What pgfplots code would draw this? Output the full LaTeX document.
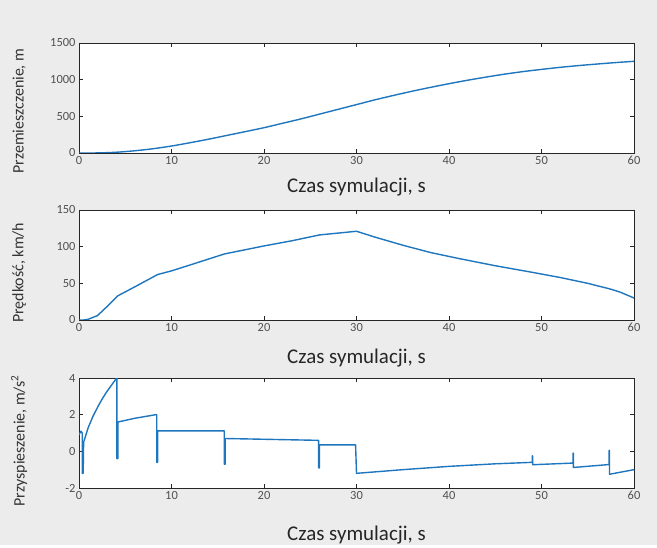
\documentclass[border=0pt]{standalone}
\usepackage{pgfplots}
\pgfplotsset{compat=1.18}
\usepackage{fontspec}
\setmainfont{Carlito}
\definecolor{mblue}{RGB}{30,118,190}
\definecolor{bg}{RGB}{236,236,236}
\definecolor{tickgray}{RGB}{80,80,80}
\pgfplotsset{
  myax/.style={
    width=555bp, height=110bp, scale only axis,
    xmin=0, xmax=60, xtick={0,10,...,60},
    axis background/.style={fill=white},
    axis line style={draw=black!85, line width=0.8pt},
    tick style={draw=black!85, line width=0.6pt},
    major tick length=4bp,
    tick align=inside,
    xtick pos=both, ytick pos=both,
    ticklabel style={font=\fontsize{12.5}{13}\selectfont, text=tickgray},
    /pgf/number format/assume math mode=true,
    /pgf/number format/1000 sep={},
    xlabel={Czas symulacji, s},
    ylabel style={font=\fontsize{16}{17}\selectfont, text=black!80, anchor=center, rotate=0},
    xlabel style={font=\fontsize{21}{22}\selectfont, text=black!85, anchor=center},
  },
  ln/.style={mblue, line width=1.4pt, line join=round, no marks},
}
\begin{document}
\begin{tikzpicture}[x=1bp,y=1bp]
\fill[bg] (0,0) rectangle (657,545);
% top
\begin{axis}[myax, at={(79bp,392bp)}, anchor=south west,
  ymin=0, ymax=1500, ytick={0,500,1000,1500},
  ylabel={Przemieszczenie, m},
  ylabel style={at={(axis description cs:-0.108,0.38)}},
  xlabel style={at={(axis description cs:0.5,-0.31)}}]
\addplot[ln, smooth] coordinates {(0,0) (2,1) (4,10) (6,30) (8,58) (10,95) (12,140) (14,188) (16,240) (18,292) (20,345) (22,405) (24,465) (26,530) (28,595) (30,660) (32,725) (34,785) (36,842) (38,895) (40,945) (42,992) (44,1035) (46,1075) (48,1110) (50,1140) (52,1168) (54,1192) (56,1213) (58,1233) (60,1250)};
\end{axis}
% middle
\begin{axis}[myax, at={(79bp,225bp)}, anchor=south west,
  ymin=0, ymax=150, ytick={0,50,100,150},
  ylabel={Prędkość, km/h},
  ylabel style={at={(axis description cs:-0.108,0.43)}},
  xlabel style={at={(axis description cs:0.5,-0.35)}}]
\addplot[ln] coordinates {(0,0) (0.5,0) (1,1) (2,6) (3,18) (4.2,33) (6,45) (8.5,62) (10,67) (12,75) (15.7,90) (20,101) (23,108) (26,116) (30,121) (32,113) (35,102) (38,92) (41,84) (45,74) (49,65) (52,58) (55,50) (57.5,42) (58.5,38) (60,30)};
\end{axis}
% bottom
\begin{axis}[myax, at={(79bp,57bp)}, anchor=south west,
  ymin=-2, ymax=4, ytick={-2,0,2,4},
  ylabel={Przyspieszenie, m/s\textsuperscript{2}},
  ylabel style={at={(axis description cs:-0.108,0.43)}},
  xlabel style={at={(axis description cs:0.5,-0.43)}}]
\addplot[ln] coordinates {(0,0.9) (0.2,1.1) (0.35,1.0) (0.35,-1.2) (0.45,-1.2) (0.5,0.5) (1.0,1.3) (1.5,1.9) (2,2.4) (2.5,2.85) (3,3.25) (3.5,3.6) (4.0,3.95) (4.1,4.0) (4.1,-0.4) (4.2,-0.4) (4.2,1.6) (6,1.8) (8.3,2.0) (8.4,2.0) (8.4,-0.6) (8.5,-0.6) (8.5,1.12) (15.7,1.12) (15.7,-0.7) (15.8,-0.7) (15.8,0.7) (25.9,0.6) (25.9,-0.9) (26.0,-0.9) (26.0,0.35) (29.9,0.35) (30,-1.2) (35,-1.0) (40,-0.82) (45,-0.68) (49,-0.6) (49,-0.25) (49.05,-0.25) (49.05,-0.73) (53.4,-0.64) (53.4,-0.1) (53.45,-0.1) (53.45,-0.88) (57.3,-0.72) (57.3,0.05) (57.35,0.05) (57.35,-1.25) (60,-1.0)};
\end{axis}
\end{tikzpicture}
\end{document}
